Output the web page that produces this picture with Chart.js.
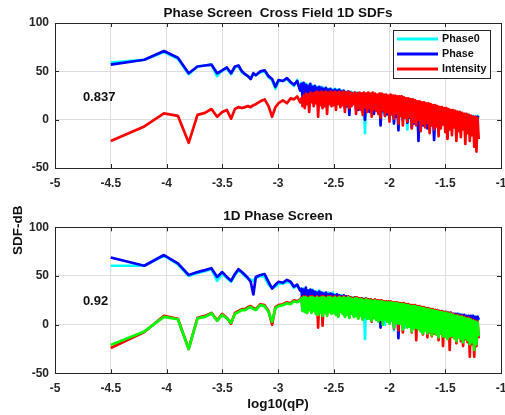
<!DOCTYPE html>
<html>
<head>
<meta charset="utf-8">
<title>Phase Screen SDFs</title>
<script src="https://cdn.jsdelivr.net/npm/chart.js@4.4.0/dist/chart.umd.min.js"></script>
<style>
    html, body { margin: 0; padding: 0; background: #fff; overflow: hidden; }
    #wrap { position: relative; width: 505px; height: 415px; }
    #topBox { position: absolute; left: 0; top: 0; width: 505px; height: 196px; }
    #botBox { position: absolute; left: 0; top: 196px; width: 505px; height: 219px; }
</style>
</head>
<body>
<div id="wrap">
    <div id="topBox"><canvas id="topChart"></canvas></div>
    <div id="botBox"><canvas id="botChart"></canvas></div>
</div>
<script>
// log10(qP) grid shared by every curve
var xs = [-4.500,-4.199,-4.023,-3.898,-3.801,-3.722,-3.655,-3.597,-3.546,-3.500,-3.459,-3.421,-3.386,-3.354,-3.324,-3.296,
    -3.270,-3.245,-3.221,-3.199,-3.158,-3.120,-3.085,-3.053,-3.023,-2.995,-2.956,-2.920,-2.887,-2.857,-2.828,-2.801,
    -2.79,-2.78,-2.77,-2.76,-2.75,-2.74,-2.73,-2.72,-2.71,-2.70,
    -2.69,-2.68,-2.67,-2.66,-2.65,-2.64,-2.63,-2.62,-2.61,-2.60,
    -2.59,-2.58,-2.57,-2.56,-2.55,-2.54,-2.53,-2.52,-2.51,-2.50,
    -2.49,-2.48,-2.47,-2.46,-2.45,-2.44,-2.43,-2.42,-2.41,-2.40,
    -2.39,-2.38,-2.37,-2.36,-2.35,-2.34,-2.33,-2.32,-2.31,-2.30,
    -2.29,-2.28,-2.27,-2.26,-2.25,-2.24,-2.23,-2.22,-2.21,-2.20,
    -2.19,-2.18,-2.17,-2.16,-2.15,-2.14,-2.13,-2.12,-2.11,-2.10,
    -2.09,-2.08,-2.07,-2.06,-2.05,-2.04,-2.03,-2.02,-2.01,-2.00,
    -1.99,-1.98,-1.97,-1.96,-1.95,-1.94,-1.93,-1.92,-1.91,-1.90,
    -1.89,-1.88,-1.87,-1.86,-1.85,-1.84,-1.83,-1.82,-1.81,-1.80,
    -1.79,-1.78,-1.77,-1.76,-1.75,-1.74,-1.73,-1.72,-1.71,-1.70,
    -1.69,-1.68,-1.67,-1.66,-1.65,-1.64,-1.63,-1.62,-1.61,-1.60,
    -1.59,-1.58,-1.57,-1.56,-1.55,-1.54,-1.53,-1.52,-1.51,-1.50,
    -1.49,-1.48,-1.47,-1.46,-1.45,-1.44,-1.43,-1.42,-1.41,-1.40,
    -1.39,-1.38,-1.37,-1.36,-1.35,-1.34,-1.33,-1.32,-1.31,-1.30,
    -1.29,-1.28,-1.27,-1.26,-1.25,-1.24,-1.23,-1.22,-1.21,-1.20];

// top panel: Phase Screen Cross Field 1D SDFs (dB)
var topPhase0 = [59,62,70,63,47,55,56,57,45,51,53,47,54,56,49,47,45,43,47,46,49,50,44,41,32,40,40,42,38,35,41,31,
    38,26,37,23,37,26,36,22,36,24,
    35,20,34,24,34,20,33,21,34,23,
    33,18,32,16,32,21,31,19,31,21,
    32,18,31,18,30,18,30,20,29,14,
    29,15,28,8,29,16,28,16,27,12,
    28,11,27,13,26,10,27,-14,26,13,
    26,9,25,11,25,7,24,9,24,8,
    23,-3,24,8,23,5,22,5,22,3,
    22,5,21,-2,20,4,20,-9,19,4,
    20,1,19,3,17,-10,18,1,17,-6,
    17,-3,16,1,16,-18,14,-1,15,-5,
    13,-2,14,-8,12,0,13,-4,12,-15,
    11,-4,12,-1,11,-7,9,-3,10,-5,
    10,-12,9,-2,7,-5,8,-1,6,-9,
    8,-3,5,0,7,-7,6,-2,4,-4,
    5,-1,3,-6,4,0,2,-3,4,1];
var topPhase = [57,62,71,64,48,55,56,57,48,51,54,48,55,56,50,47,45,42,48,46,50,51,45,42,34,41,40,43,39,36,40,30,
    37,24,38,22,36,27,35,20,37,25,
    34,18,35,25,33,21,34,19,33,22,
    32,16,33,14,31,22,32,18,30,20,
    31,16,30,19,31,17,29,21,30,12,
    28,14,29,5,28,15,27,17,28,10,
    27,10,26,14,27,8,26,0,25,12,
    25,8,26,12,24,6,25,10,23,7,
    24,-6,23,9,22,4,23,6,21,2,
    21,6,20,-4,21,3,19,-11,20,5,
    19,0,18,4,18,-3,17,2,16,-8,
    16,-4,17,2,15,-22,15,-2,14,-6,
    14,-3,13,-9,13,-1,12,-5,11,-21,
    12,-5,11,-2,10,-8,10,-4,9,-6,
    9,-18,8,-3,8,-6,7,-2,7,-10,
    7,-4,6,-1,6,-8,5,-3,5,-5,
    4,-2,4,-7,3,-1,3,-4,3,2];
var topIntensity = [-22,-7,6.5,4,-24,5,7,11,3,8,10,1,11,13,12,13,14,13,15,16,19,21,14,3,13,17,20,17,22,21,24,18,
    22,14,25,12,27,16,26,8,28,18,
    27,14,28,17,29,3,28,15,29,12,
    28,14,29,6,28,16,29,14,28,15,
    29,10,28,16,29,13,28,15,29,8,
    28,15,29,12,28,14,27,16,28,6,
    27,12,28,10,27,5,28,13,27,8,
    28,12,27,3,28,11,27,9,26,6,
    27,2,27,10,26,4,26,8,25,-2,
    26,6,25,1,25,7,24,-4,24,4,
    24,-6,23,2,22,-2,22,3,21,-9,
    21,-2,20,-6,19,0,19,-12,18,-4,
    18,-8,17,-3,17,-14,16,-6,15,-10,
    15,-7,14,-17,13,-9,13,-5,12,-13,
    12,-20,11,-10,10,-16,10,-8,9,-22,
    8,-12,8,-18,7,-10,6,-25,6,-14,
    5,-22,4,-16,3,-28,3,-33,2,-20];

// bottom panel: 1D Phase Screen (dB)
var botPhase0 = [60.5,60.5,71,62,50,53,55,57,45,52,48,44,51,56,53,50,47,46,45,48,50,49,41,38,39,42,42,44,43,38,40,36,
    36,26,37,22,36,25,35,22,34,23,
    36,21,33,24,34,19,35,21,32,22,
    33,21,32,16,33,24,31,15,33,20,
    31,18,30,17,29,19,30,17,29,18,
    28,18,29,13,27,17,28,14,27,15,
    26,13,27,14,26,11,27,-15,25,12,
    26,10,25,5,25,9,24,10,23,8,
    23,5,24,9,22,0,23,9,21,2,
    21,4,22,-6,20,5,19,-3,19,2,
    21,5,18,-3,19,4,17,2,17,3,
    19,3,16,1,18,2,16,1,17,2,
    16,1,15,1,15,0,16,1,14,2,
    14,0,15,1,13,0,12,1,12,0,
    12,0,11,1,12,0,10,1,10,0,
    10,0,11,1,9,0,9,1,8,0,
    8,1,8,0,9,1,7,0,8,4];
var botPhase = [69,60.5,71.5,63,51,54,56,58,49,54,49,45,52,57,54,51,48,44,31,49,51,52,44,37,41,44,43,46,44,39,41,35,
    37,24,36,21,38,26,35,20,36,24,
    35,22,34,26,33,20,34,24,33,21,
    32,19,33,17,31,22,32,20,31,18,
    30,20,31,18,30,21,29,19,30,16,
    29,19,28,15,28,18,27,16,28,14,
    27,12,26,15,27,10,26,13,26,14,
    25,12,26,14,24,8,25,11,24,9,
    24,-3,23,10,23,8,22,10,22,8,
    22,5,21,7,21,4,20,-14,20,6,
    20,6,19,4,19,5,18,3,18,3,
    18,4,17,3,17,2,17,4,16,3,
    17,2,16,3,16,2,15,3,15,2,
    15,1,14,2,14,1,13,2,13,1,
    13,1,12,2,12,1,11,1,11,0,
    11,1,10,0,10,1,10,0,9,1,
    9,0,9,1,9,0,8,1,8,5];
var botIntensity = [-24,-7.5,9,6,-25,7,9,12,4.5,11,7,1,12,14,16,16,18,19,17,16,21,20,14,0,18,20,21,23,22,25,24,26,
    28,15,29,14,29,12,28,16,29,13,
    29,15,28,12,29,-3,28,13,29,-1,
    29,13,28,10,29,14,29,12,28,13,
    29,11,28,9,29,14,28,12,29,9,
    28,11,29,8,28,12,27,9,28,10,
    28,7,27,10,27,6,26,9,27,7,
    26,7,26,3,25,8,26,6,25,4,
    25,6,25,1,24,6,24,4,24,2,
    24,5,23,-4,23,3,23,-6,22,2,
    22,-8,22,1,21,-2,21,-1,20,-8,
    20,-3,20,-16,19,-4,19,-6,18,-10,
    18,-5,17,-13,17,-8,16,-12,16,-9,
    15,-10,15,-16,14,-9,14,-22,13,-12,
    13,-14,12,-26,12,-12,11,-14,10,-19,
    10,-13,9,-17,9,-22,8,-15,7,-18,
    7,-33,6,-20,5,-33,4,-22,3,-14];
var botIntensity2 = [-21,-7,8,5.5,-25,6.5,8,11.5,4,10,6.5,2,11,13,15,15,17,18,16,15,20,19,13,3,17,19,20,22,21,24,23,25,
    27,14,28,13,28,12,27,15,28,12,
    28,14,27,11,28,10,27,12,28,9,
    28,12,27,9,28,13,28,11,27,12,
    28,10,27,8,28,13,27,11,28,8,
    27,10,28,7,27,11,26,8,27,9,
    27,6,26,9,26,5,25,8,26,6,
    25,6,25,4,24,7,25,5,24,3,
    24,5,24,0,23,5,23,3,23,1,
    23,4,22,-3,22,2,22,1,21,1,
    21,-5,21,0,20,-3,20,-2,19,-7,
    19,-4,19,-3,18,-5,18,-7,17,-9,
    17,-6,16,-9,16,-7,15,-11,15,-8,
    14,-10,14,-13,13,-9,13,-12,12,-12,
    12,-15,11,-12,11,-11,10,-14,9,-17,
    9,-13,8,-15,8,-18,7,-14,6,-16,
    6,-20,5,-18,4,-26,3,-20,2,-12];

var xTicks = [-5, -4.5, -4, -3.5, -3, -2.5, -2, -1.5, -1];
var yTicks = [-50, 0, 50, 100];
var corrTop = '0.837';
var corrBot = '0.92';

var FONT = '"Liberation Sans", Arial, Helvetica, sans-serif';
var AXIS_COLOR = '#262626';
Chart.defaults.font.family = FONT;
Chart.defaults.font.size = 12;
Chart.defaults.font.weight = 'bold';
Chart.defaults.color = AXIS_COLOR;

function toPoints(arr) {
    return xs.map(function (x, i) { return {x: x, y: arr[i]}; });
}

function line(label, arr, color, order) {
    return {
        label: label, data: toPoints(arr), borderColor: color, backgroundColor: color,
        borderWidth: 2.7, pointRadius: 0, tension: 0, fill: false,
        borderJoinStyle: 'round', order: order
    };
}

// MATLAB-like box with inward tick marks, plus title / labels / legend
var axesBox = {
    id: 'axesBox',
    afterDatasetsDraw: function (chart) {
        var ctx = chart.ctx, a = chart.chartArea;
        var sx = chart.scales.x, sy = chart.scales.y;
        ctx.save();
        ctx.strokeStyle = AXIS_COLOR;
        ctx.lineWidth = 1;
        ctx.strokeRect(Math.round(a.left) + 0.5, Math.round(a.top) + 0.5,
            Math.round(a.right - a.left), Math.round(a.bottom - a.top));
        ctx.beginPath();
        xTicks.forEach(function (v) {
            var px = Math.round(sx.getPixelForValue(v)) + 0.5;
            ctx.moveTo(px, a.bottom); ctx.lineTo(px, a.bottom - 4);
            ctx.moveTo(px, a.top); ctx.lineTo(px, a.top + 4);
        });
        yTicks.forEach(function (v) {
            var py = Math.round(sy.getPixelForValue(v)) + 0.5;
            ctx.moveTo(a.left, py); ctx.lineTo(a.left + 4, py);
            ctx.moveTo(a.right, py); ctx.lineTo(a.right - 4, py);
        });
        ctx.stroke();
        ctx.restore();
    },
    afterDraw: function (chart, args, opts) {
        var ctx = chart.ctx, a = chart.chartArea;
        ctx.save();
        ctx.fillStyle = '#111';
        // title centred over the axes
        if (opts.title) {
            ctx.font = 'bold 13.5px ' + FONT;
            ctx.textAlign = 'center';
            ctx.textBaseline = 'middle';
            ctx.fillText(opts.title, (a.left + a.right) / 2, a.top - opts.titleGap);
        }
        if (opts.corr) {
            ctx.font = 'bold 13px ' + FONT;
            ctx.textAlign = 'left';
            ctx.textBaseline = 'middle';
            ctx.fillText(opts.corr, chart.scales.x.getPixelForValue(-4.75), chart.scales.y.getPixelForValue(23.5));
        }
        if (opts.ylabel) {
            ctx.font = 'bold 13.5px ' + FONT;
            ctx.textAlign = 'center';
            ctx.textBaseline = 'middle';
            ctx.translate(18, a.top + 3);
            ctx.rotate(-Math.PI / 2);
            ctx.fillText(opts.ylabel, 0, 0);
            ctx.setTransform(1, 0, 0, 1, 0, 0);
        }
        if (opts.legend) {
            var w = 97, h = 48;
            var x0 = Math.round(a.right - 11 - w), y0 = Math.round(a.top + 7);
            ctx.fillStyle = '#fff';
            ctx.fillRect(x0, y0, w, h);
            ctx.strokeStyle = AXIS_COLOR;
            ctx.lineWidth = 1;
            ctx.strokeRect(x0 + 0.5, y0 + 0.5, w, h);
            ctx.font = 'bold 10.8px ' + FONT;
            ctx.textAlign = 'left';
            ctx.textBaseline = 'middle';
            chart.data.datasets.forEach(function (ds, i) {
                var y = y0 + 9 + i * 15;
                ctx.strokeStyle = ds.borderColor;
                ctx.lineWidth = 3;
                ctx.beginPath();
                ctx.moveTo(x0 + 4, y);
                ctx.lineTo(x0 + 45, y);
                ctx.stroke();
                ctx.fillStyle = '#111';
                ctx.fillText(ds.label, x0 + 49, y);
            });
        }
        ctx.restore();
    }
};

function makeChart(id, cfg) {
    var ctx = document.getElementById(id).getContext('2d');
    return new Chart(ctx, {
        type: 'line',
        data: {datasets: cfg.datasets},
        options: {
            responsive: true,
            maintainAspectRatio: false,
            animation: false,
            devicePixelRatio: 1,
            layout: {autoPadding: false, padding: {left: 0, right: 4, top: cfg.padTop, bottom: cfg.padBottom}},
            plugins: {
                legend: {display: false},
                tooltip: {enabled: false},
                title: {display: false},
                axesBox: {title: cfg.title, titleGap: cfg.titleGap, corr: cfg.corr, legend: cfg.legend, ylabel: cfg.ylabel}
            },
            scales: {
                x: {
                    type: 'linear', min: -5, max: -1,
                    afterBuildTicks: function (s) { s.ticks = xTicks.map(function (v) { return {value: v}; }); },
                    afterFit: function (s) {
                        s.height = cfg.xHeight;
                        s.paddingLeft = 0; s.paddingRight = 0;
                    },
                    ticks: {padding: 8, maxRotation: 0, callback: function (v) { return String(v); }},
                    grid: {color: '#dedede', drawTicks: false},
                    border: {display: false},
                    title: cfg.xTitle ? {display: true, text: cfg.xTitle, color: '#111',
                        font: {size: 13.5, weight: 'bold'}, padding: {top: 1, bottom: 2}} : {display: false}
                },
                y: {
                    type: 'linear', min: -50, max: 100,
                    afterBuildTicks: function (s) { s.ticks = yTicks.map(function (v) { return {value: v}; }); },
                    afterFit: function (s) {
                        s.width = 55;
                        s.paddingTop = 0; s.paddingBottom = 0;
                    },
                    ticks: {padding: 6, callback: function (v) { return String(v); }},
                    grid: {color: '#dedede', drawTicks: false},
                    border: {display: false}
                }
            }
        },
        plugins: [axesBox]
    });
}

makeChart('topChart', {
    title: 'Phase Screen  Cross Field 1D SDFs',
    titleGap: 10,
    padTop: 23,
    xHeight: 22.4,
    padBottom: 5.6,
    corr: corrTop,
    legend: true,
    datasets: [
        line('Phase0', topPhase0, '#00ffff', 3),
        line('Phase', topPhase, '#0000ff', 2),
        line('Intensity', topIntensity, '#ff0000', 1)
    ]
});

makeChart('botChart', {
    title: '1D Phase Screen',
    titleGap: 10.6,
    padTop: 31.3,
    xHeight: 40.8,
    padBottom: 0.9,
    corr: corrBot,
    ylabel: 'SDF-dB',
    xTitle: 'log10(qP)',
    datasets: [
        line('Phase0', botPhase0, '#00ffff', 4),
        line('Phase', botPhase, '#0000ff', 3),
        line('Intensity', botIntensity, '#ff0000', 2),
        line('Intensity2', botIntensity2, '#00ff00', 1)
    ]
});
</script>
</body>
</html>
